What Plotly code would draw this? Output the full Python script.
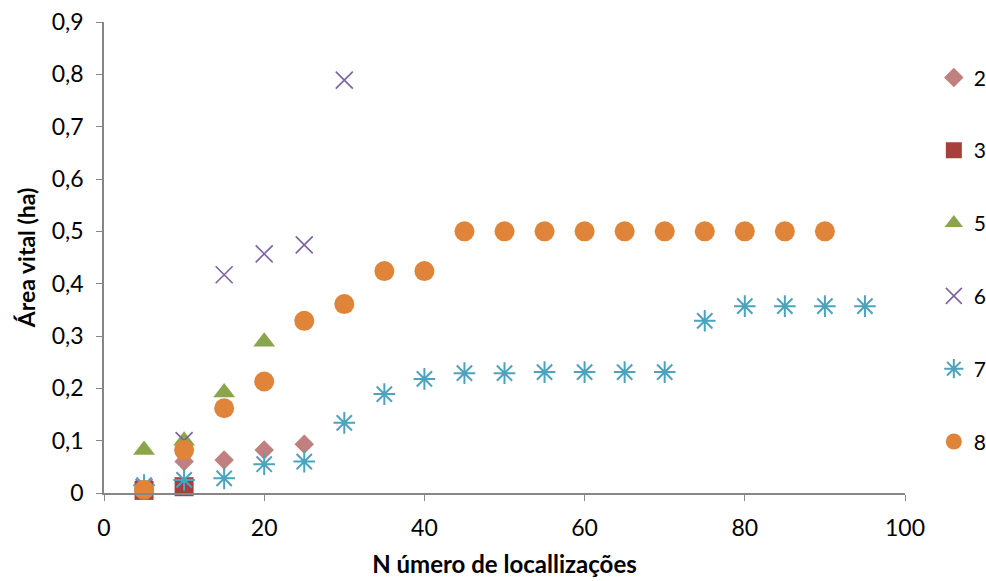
import plotly.graph_objects as go

x_all = [5, 10, 15, 20, 25, 30, 35, 40, 45, 50, 55, 60, 65, 70, 75, 80, 85, 90, 95]

s2_x = [5, 10, 15, 20, 25]
s2_y = [0.005, 0.060, 0.063, 0.082, 0.093]
s3_x = [5, 10]
s3_y = [0.005, 0.012]
s5_x = [5, 10, 15, 20]
s5_y = [0.082, 0.100, 0.192, 0.289]
s6_x = [5, 10, 15, 20, 25, 30]
s6_y = [0.010, 0.100, 0.417, 0.457, 0.474, 0.789]
s7_x = x_all
s7_y = [0.015, 0.025, 0.028, 0.055, 0.060, 0.134, 0.189, 0.218, 0.229, 0.229, 0.231,
        0.231, 0.231, 0.231, 0.329, 0.357, 0.357, 0.357, 0.357]
s8_x = x_all[:18]
s8_y = [0.006, 0.082, 0.162, 0.213, 0.329, 0.361, 0.424, 0.424, 0.5, 0.5, 0.5, 0.5,
        0.5, 0.5, 0.5, 0.5, 0.5, 0.5]

y_ticks = [0, 0.1, 0.2, 0.3, 0.4, 0.5, 0.6, 0.7, 0.8, 0.9]
y_tick_text = ["0", "0,1", "0,2", "0,3", "0,4", "0,5", "0,6", "0,7", "0,8", "0,9"]
x_ticks = [0, 20, 40, 60, 80, 100]

FONT = "Lato"

series = [
    ("2", s2_x, s2_y, dict(symbol="diamond", size=15, color="#C0807F")),
    ("3", s3_x, s3_y, dict(symbol="square", size=19, color="#A6403C")),
    ("5", s5_x, s5_y, dict(symbol="triangle-up", size=19, color="#8BA54A")),
    ("6", s6_x, s6_y, dict(symbol="x-thin-open", size=17, color="#7E619E",
                           line=dict(width=1.6, color="#7E619E"))),
    ("7", s7_x, s7_y, dict(symbol="asterisk-open", size=18, color="#4BA3BE",
                           line=dict(width=2, color="#4BA3BE"))),
    ("8", s8_x, s8_y, dict(symbol="circle", size=20, color="#E0843A")),
]

fig = go.Figure()
for name, xs, ys, mk in series:
    fig.add_trace(go.Scatter(x=xs, y=ys, mode="markers", name=name, marker=mk,
                             legendgroup=name, cliponaxis=False))

fig.update_layout(
    width=986, height=581,
    margin=dict(l=104, r=81, t=22, b=88, autoexpand=False),
    paper_bgcolor="white", plot_bgcolor="white",
    font=dict(family=FONT, size=23, color="#000000"),
    showlegend=True,
    legend=dict(x=1.036, y=0.925, xanchor="left", yanchor="top",
                tracegroupgap=42.5, font=dict(size=21), itemwidth=30,
                bgcolor="rgba(0,0,0,0)"),
    xaxis=dict(range=[0, 100], tickvals=x_ticks, showgrid=False, zeroline=False,
               showline=True, linecolor="#868686", linewidth=1.5,
               ticks="outside", ticklen=6, tickcolor="#868686",
               ticklabelstandoff=8, tickfont=dict(size=23),
               title=dict(text="<b>N úmero de locallizações</b>", standoff=16,
                          font=dict(size=24))),
    yaxis=dict(range=[0, 0.9], tickvals=y_ticks, ticktext=y_tick_text,
               showgrid=False, zeroline=False,
               showline=True, linecolor="#868686", linewidth=1.5,
               ticks="outside", ticklen=6, tickcolor="#868686",
               ticklabelstandoff=8, tickfont=dict(size=23),
               title=dict(text="<b>Área vital (ha)</b>", standoff=10,
                          font=dict(size=23))),
)

fig.write_html("out.html")
